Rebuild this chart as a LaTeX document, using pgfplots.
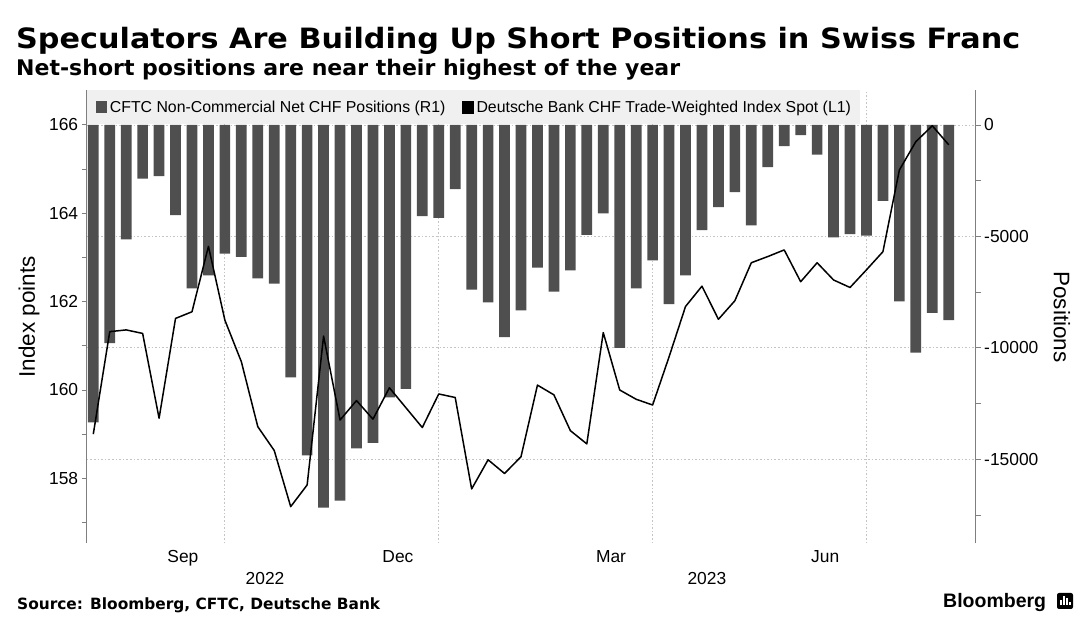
\documentclass[border=0pt]{standalone}
\usepackage{fontspec}
\setmainfont{Liberation Sans}
\newfontfamily\dv{DejaVu Sans}
\usepackage{graphicx}
\usepackage{pgfplots}
\usepackage{pgfplotstable}
\pgfplotsset{compat=1.18}
\definecolor{barc}{HTML}{4F4F4F}
\definecolor{gridc}{HTML}{C4C4C4}
\definecolor{axc}{HTML}{7F7F7F}
\definecolor{legc}{HTML}{F0F0F0}

\pgfplotstableread{
i pos idx
0 -13340 159.00
1 -9790 161.32
2 -5130 161.36
3 -2410 161.28
4 -2290 159.36
5 -4050 161.62
6 -7330 161.77
7 -6750 163.25
8 -5770 161.58
9 -5920 160.64
10 -6880 159.17
11 -7120 158.63
12 -11320 157.36
13 -14830 157.85
14 -17170 161.22
15 -16850 159.32
16 -14510 159.76
17 -14260 159.34
18 -12220 160.05
19 -11840 159.60
20 -4090 159.15
21 -4170 159.91
22 -2880 159.83
23 -7390 157.76
24 -7960 158.42
25 -9520 158.11
26 -8320 158.49
27 -6400 160.11
28 -7480 159.89
29 -6520 159.08
30 -4930 158.78
31 -3970 161.30
32 -10000 160.00
33 -7330 159.79
34 -6070 159.66
35 -8040 160.75
36 -6750 161.89
37 -4720 162.35
38 -3690 161.60
39 -3010 162.02
40 -4500 162.88
41 -1890 163.02
42 -950 163.17
43 -450 162.45
44 -1330 162.88
45 -5040 162.49
46 -4900 162.32
47 -4960 162.72
48 -3400 163.13
49 -7920 164.98
50 -10220 165.62
51 -8430 165.98
52 -8760 165.55
}\data

\pgfplotsset{
  common/.style={
    at={(86.7pt,79.7pt)}, anchor=south west,
    scale only axis, width=889pt, height=453.3pt,
    xmin=-0.4, xmax=53.64,
  },
  labelaxis/.style={
    common, ymin=0, ymax=1, ytick=\empty,
    axis y line=none, axis x line*=bottom,
    x axis line style={draw=none},
    major tick length=0pt,
    xticklabel style={anchor=base, font=\fontsize{17.4}{20}\selectfont, text=black},
  },
}

\begin{document}
\begin{tikzpicture}
\useasboundingbox (0pt,0pt) rectangle (1089pt,623pt);
\fill[white] (0pt,0pt) rectangle (1089pt,623pt);

% titles
\node[anchor=base west, inner sep=0pt] at (16pt,574pt)
  {\resizebox{1004pt}{\height}{\dv\bfseries\fontsize{28}{34}\selectfont Speculators Are Building Up Short Positions in Swiss Franc}};
\node[anchor=base west, inner sep=0pt] at (16pt,547pt)
  {\resizebox{664pt}{\height}{\dv\bfseries\fontsize{21.5}{26}\selectfont Net-short positions are near their highest of the year}};

% bars (right axis)
\begin{axis}[
  common,
  ymin=-18770, ymax=1570,
  scaled y ticks=false,
  axis y line*=right, axis x line*=bottom,
  x axis line style={draw=none},
  y axis line style={axc, line width=0.8pt},
  tick align=outside,
  major tick length=5pt, minor tick length=5pt,
  tick style={axc, line width=0.8pt},
  ytick={-15000,-10000,-5000,0},
  yticklabels={-15000,-10000,-5000,0},
  minor ytick={-17500,-12500,-7500,-2500},
  yticklabel style={font=\fontsize{17.4}{20}\selectfont, text=black},
  ymajorgrids=true,
  major grid style={gridc, line width=0.8pt, dash pattern=on 1.6pt off 2pt},
  xtick={7.95,20.95,34,47},
  xticklabels={},
  xmajorticks=false,
  xmajorgrids=true,
  legend columns=2,
  legend cell align=left,
  legend style={at={(0,1)}, anchor=north west,
    fill=legc, draw=none,
    inner xsep=9.3pt, inner ysep=8.25pt,
    font=\fontsize{15.85}{18}\selectfont,
    nodes={inner sep=0pt, text height=14.5pt, text depth=3pt},
    /tikz/every even column/.append style={column sep=17pt},
    /tikz/every odd column/.append style={column sep=3pt}},
]
\addplot[ybar, bar width=10.7pt, fill=barc, draw=none,
  legend image code/.code={\fill[barc] (0pt,-5.75pt) rectangle (10.7pt,5.75pt);}]
  table[x=i, y=pos] {\data};
\addlegendentry{CFTC Non-Commercial Net CHF Positions (R1)}
\addlegendimage{legend image code/.code={\fill[black] (0pt,-5.75pt) rectangle (10.7pt,5.75pt);}}
\addlegendentry{Deutsche Bank CHF Trade-Weighted Index Spot (L1)}
\end{axis}

% line (left axis)
\begin{axis}[
  common,
  ymin=156.53, ymax=166.79,
  axis y line*=left, axis x line*=bottom,
  x axis line style={draw=none},
  y axis line style={axc, line width=0.8pt},
  tick align=outside,
  major tick length=5pt, minor tick length=5pt,
  tick style={axc, line width=0.8pt},
  ytick={158,160,162,164,166},
  yticklabels={158,160,162,164,166},
  minor ytick={157,159,161,163,165},
  yticklabel style={font=\fontsize{17.4}{20}\selectfont, text=black},
  xtick=\empty,
]
\addplot[black, line width=1.5pt, line join=round] table[x=i, y=idx] {\data};
\end{axis}

% month labels
\begin{axis}[labelaxis,
  xtick={5.45,18.52,31.47,44.49},
  xticklabels={Sep,Dec,Mar,Jun},
  xticklabel style={yshift=-19.7pt},
]
\end{axis}
% year labels
\begin{axis}[labelaxis,
  xtick={10.44,37.3},
  xticklabels={2022,2023},
  xticklabel style={yshift=-41.2pt},
]
\end{axis}

% axis titles
\node[rotate=90, font=\fontsize{22.5}{26}\selectfont] at (29pt,306pt) {Index points};
\node[rotate=-90, font=\fontsize{22.5}{26}\selectfont] at (1062pt,306pt) {Positions};

% footer
\node[anchor=base west, inner sep=0pt] at (17pt,13.5pt)
  {\resizebox{363pt}{\height}{\dv\bfseries\fontsize{15.5}{18}\selectfont Source: Bloomberg, CFTC, Deutsche Bank}};
\node[anchor=base west, inner sep=0pt, font=\bfseries\fontsize{19.5}{22}\selectfont] at (943pt,15pt) {Bloomberg};
\fill[black, rounded corners=2pt] (1057pt,14pt) rectangle (1073pt,30pt);
\fill[white] (1060pt,17.5pt) rectangle (1061.6pt,23pt);
\fill[white] (1063.2pt,17.5pt) rectangle (1064.8pt,27pt);
\fill[white] (1066.4pt,17.5pt) rectangle (1068pt,25pt);
\fill[white] (1069.4pt,17.5pt) rectangle (1070.6pt,21pt);
\end{tikzpicture}
\end{document}
